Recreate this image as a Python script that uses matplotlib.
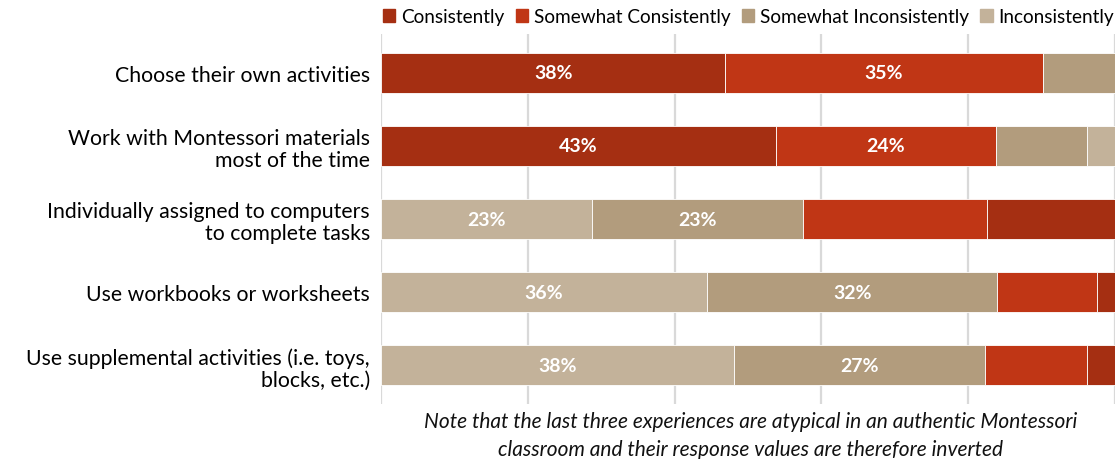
import matplotlib
matplotlib.use("Agg")
import matplotlib.pyplot as plt
import numpy as np

plt.rcParams["font.family"] = ["Lato", "DejaVu Sans"]

# Survey items (top to bottom)
items = [
    "Choose their own activities",
    "Work with Montessori materials\nmost of the time",
    "Individually assigned to computers\nto complete tasks",
    "Use workbooks or worksheets",
    "Use supplemental activities (i.e. toys,\nblocks, etc.)",
]

# Response percentages per item
consistently = [38, 43, 14, 2, 3]
somewhat_consistently = [35, 24, 20, 11, 11]
somewhat_inconsistently = [8, 10, 23, 32, 27]
inconsistently = [0, 3, 23, 36, 38]

# Atypical experiences are drawn with the response order reversed
inverted = [False, False, True, True, True]

categories = ["Consistently", "Somewhat Consistently",
              "Somewhat Inconsistently", "Inconsistently"]
colors = ["#A52F12", "#C03615", "#B29C7D", "#C3B29A"]

note = ("Note that the last three experiences are atypical in an authentic Montessori\n"
        "classroom and their response values are therefore inverted")

series = [consistently, somewhat_consistently, somewhat_inconsistently, inconsistently]

fig = plt.figure(figsize=(11.17, 4.60), dpi=100)
ax = fig.add_axes([381 / 1117, 55 / 460, 734 / 1117, 370 / 460])

bar_h = 0.55
for row in range(len(items)):
    vals = [s[row] for s in series]
    order = [3, 2, 1, 0] if inverted[row] else [0, 1, 2, 3]
    total = float(sum(vals))
    left = 0.0
    for k, ci in enumerate(order):
        share = vals[ci] / total
        if share > 0:
            ax.barh(row, share, left=left, height=bar_h, color=colors[ci],
                    edgecolor="white", linewidth=0.6, zorder=2)
            if k < 2:
                ax.text(left + share / 2, row, f"{vals[ci]}%", ha="center",
                        va="center", color="white", fontsize=14,
                        fontweight="bold", zorder=3)
        left += share

ax.set_xlim(0, 1)
ax.set_ylim(len(items) - 0.47, -0.53)
ax.set_xticks(np.linspace(0, 1, 6))
ax.set_xticklabels([])
ax.tick_params(axis="x", length=0)
ax.grid(axis="x", color="#D9D9D9", linewidth=1.6, zorder=0)
ax.set_axisbelow(True)
for sp in ax.spines.values():
    sp.set_visible(False)

ax.set_yticks(range(len(items)))
ax.set_yticklabels(items, fontsize=15.3, linespacing=1.12)
ax.tick_params(axis="y", length=0, pad=8)

# Legend across the top
handles = [plt.Rectangle((0, 0), 1, 1, color=c) for c in colors]
fig.legend(handles, categories, loc="center right", ncol=4, frameon=False,
           bbox_to_anchor=(1114 / 1117, 1 - 17.5 / 460), fontsize=13.7,
           handlelength=0.65, handleheight=0.65, handletextpad=0.3,
           columnspacing=0.6, borderpad=0, borderaxespad=0)

fig.text(751 / 1117, 1 - 436.5 / 460, note, ha="center", va="center",
         fontsize=15, style="italic", linespacing=1.5, color="#111111")

fig.savefig("out.png", dpi=100)
